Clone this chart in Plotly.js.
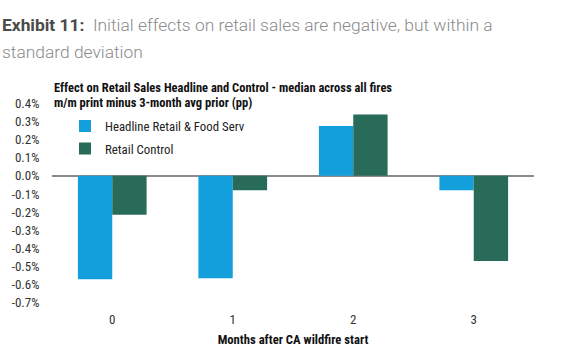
<!DOCTYPE html>
<html>
<head>
<meta charset="utf-8">
<script src="https://cdn.plot.ly/plotly-3.0.1.min.js"></script>
<style>html,body{margin:0;padding:0;background:#fff;}#chart{width:574px;height:352px;}</style>
</head>
<body>
<div id="chart"></div>
<script>
const categories = [0, 1, 2, 3];
const headline = [-0.57, -0.565, 0.275, -0.08];
const control = [-0.215, -0.08, 0.338, -0.47];
const seriesNames = ["Headline Retail & Food Serv", "Retail Control"];
const tickVals = [0.4, 0.3, 0.2, 0.1, 0.0, -0.1, -0.2, -0.3, -0.4, -0.5, -0.6, -0.7];
const tickText = ["0.4%", "0.3%", "0.2%", "0.1%", "0.0%", "-0.1%", "-0.2%", "-0.3%", "-0.4%", "-0.5%", "-0.6%", "-0.7%"];

const COND = "'Roboto Condensed', 'Liberation Sans Narrow', 'DejaVu Sans Condensed', 'Arial Narrow', Roboto, sans-serif";

const traces = [
  {type: 'bar', x: categories, y: headline, name: seriesNames[0], legendgroup: 'a', marker: {color: '#139fdc'}},
  {type: 'bar', x: categories, y: control, name: seriesNames[1], legendgroup: 'b', marker: {color: '#276b58'}}
];

const layout = {
  width: 574, height: 352,
  margin: {l: 52, r: 40, t: 95, b: 42},
  paper_bgcolor: '#fff', plot_bgcolor: '#fff',
  barmode: 'group', bargap: 0.43, bargroupgap: 0,
  showlegend: true,
  legend: {x: 0.027, y: 0.925, xanchor: 'left', yanchor: 'top', bgcolor: 'rgba(0,0,0,0)',
           font: {family: COND, size: 12.8, color: '#222'}, tracegroupgap: 3, itemwidth: 30},
  font: {family: COND, color: '#333'},
  xaxis: {
    range: [-0.5, 3.5], tickvals: categories, ticktext: categories.map(String),
    showgrid: false, zeroline: false, showline: false, ticks: '',
    tickfont: {family: COND, size: 13, color: '#333'},
    title: {text: '<b>Months after CA wildfire start</b>', font: {family: COND, size: 12.7, color: '#111'}, standoff: 9}
  },
  yaxis: {
    range: [-0.74, 0.4458], tickvals: tickVals, ticktext: tickText,
    showgrid: false, showline: false, zeroline: true, zerolinecolor: '#8a8a8a', zerolinewidth: 1.5,
    ticks: 'outside', ticklen: 9, tickcolor: 'rgba(0,0,0,0)',
    tickfont: {family: COND, size: 13, color: '#333'}
  },
  annotations: [
    {xref: 'paper', yref: 'paper', x: -52/482, y: 1 + (95 - 24.5)/215, xanchor: 'left', yanchor: 'middle',
     showarrow: false, align: 'left',
     text: '<b style="color:#4a4a4a">Exhibit 11:</b>  Initial effects on retail sales are negative, but within a',
     font: {family: 'Roboto', size: 17.4, color: '#8a8a8a', weight: 300}},
    {xref: 'paper', yref: 'paper', x: -52/482, y: 1 + (95 - 52)/215, xanchor: 'left', yanchor: 'middle',
     showarrow: false, align: 'left',
     text: 'standard deviation',
     font: {family: 'Roboto', size: 17.4, color: '#8a8a8a', weight: 300}},
    {xref: 'paper', yref: 'paper', x: 0, y: 1 + (95 - 87)/215, xanchor: 'left', yanchor: 'middle',
     showarrow: false, align: 'left',
     text: '<b>Effect on Retail Sales Headline and Control - median across all fires</b>',
     font: {family: COND, size: 12.5, color: '#111'}},
    {xref: 'paper', yref: 'paper', x: 0, y: 1 + (95 - 102.5)/215, xanchor: 'left', yanchor: 'middle',
     showarrow: false, align: 'left',
     text: '<b>m/m print minus 3-month avg prior (pp)</b>',
     font: {family: COND, size: 12.5, color: '#111'}}
  ]
};

Plotly.newPlot('chart', traces, layout, {displayModeBar: false, staticPlot: true});
</script>
</body>
</html>
